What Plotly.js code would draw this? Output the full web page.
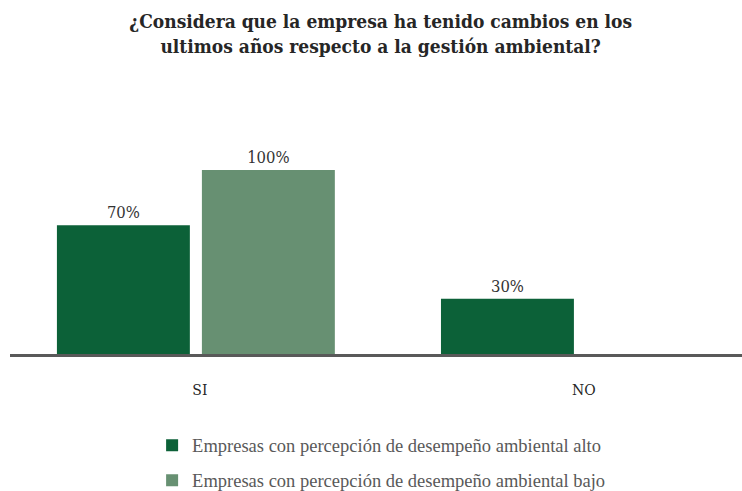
<!DOCTYPE html>
<html>
<head>
<meta charset="utf-8">
<script src="https://cdn.plot.ly/plotly-3.0.1.min.js"></script>
<style>html,body{margin:0;padding:0;background:#fff;}#chart{width:742px;height:491px;}</style>
</head>
<body>
<div id="chart"></div>
<script>
var categories = ["SI", "NO"];
var seriesNames = ["Empresas con percepción de desempeño ambiental alto", "Empresas con percepción de desempeño ambiental bajo"];
var valuesAlto = [70, 30];
var valuesBajo = [100, 0];
var labelsAlto = ["70%", "30%"];
var labelsBajo = ["100%", ""];

var serifLabel = "'DejaVu Serif Condensed', 'DejaVu Serif', serif";

var traces = [
  {type: "bar", name: seriesNames[0], x: categories, y: valuesAlto, text: labelsAlto,
   textposition: "outside", cliponaxis: false, marker: {color: "#0c6138"}, legendgroup: "a",
   textfont: {family: serifLabel, size: 16.5, color: "#333333"}, hoverinfo: "none"},
  {type: "bar", name: seriesNames[1], x: categories, y: valuesBajo, text: labelsBajo,
   textposition: "outside", cliponaxis: false, marker: {color: "#679072"}, legendgroup: "b",
   textfont: {family: serifLabel, size: 16.5, color: "#333333"}, hoverinfo: "none"}
];

var layout = {
  width: 742, height: 491,
  margin: {l: 10, r: 0, t: 100, b: 137, autoexpand: false},
  paper_bgcolor: "#ffffff", plot_bgcolor: "#ffffff",
  showlegend: true,
  title: {
    text: "<b>¿Considera que la empresa ha tenido cambios en los<br>ultimos años respecto a la gestión ambiental?</b>",
    x: 0.513, xanchor: "center", y: 0.943, yanchor: "top", automargin: false,
    font: {family: serifLabel, size: 19, color: "#262626"}
  },
  barmode: "group", bargap: 0.245, bargroupgap: 0.083,
  xaxis: {
    range: [-0.484, 1.422], showgrid: false, zeroline: false,
    showline: true, linecolor: "#595959", linewidth: 3,
    ticks: "", ticklabelstandoff: 19, ticklabelshift: 4, automargin: false,
    tickfont: {family: serifLabel, size: 15.5, color: "#262626"}
  },
  yaxis: {range: [0, 138], visible: false, showgrid: false, zeroline: false, automargin: false},
  legend: {
    orientation: "v", xref: "container", yref: "container",
    x: 0.205, xanchor: "left", y: 0.131, yanchor: "top",
    tracegroupgap: 8,
    font: {family: "'Liberation Serif', serif", size: 18.5, color: "#595959"}
  }
};

Plotly.newPlot("chart", traces, layout, {displayModeBar: false, staticPlot: true});
</script>
</body>
</html>
